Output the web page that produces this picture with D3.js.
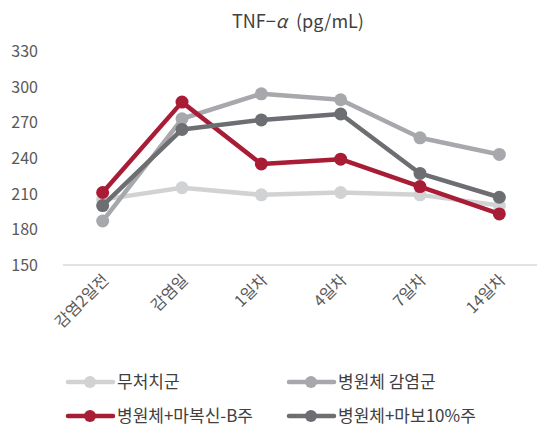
<!DOCTYPE html>
<html><head><meta charset="utf-8">
<script src="https://cdn.jsdelivr.net/npm/d3@7"></script>
<style>body{margin:0;background:#fff;} text{font-family:"Noto Sans CJK KR","Noto Sans",sans-serif;}</style>
</head><body><svg id="c" width="537" height="428"></svg>
<script>
const categories = ["감염2일전","감염일","1일차","4일차","7일차","14일차"];
const seriesNames = ["무처치군","병원체 감염군","병원체+마복신-B주","병원체+마보10%주"];
const untreated = [205, 215, 209, 211, 209, 200];
const infected = [187, 273, 294, 289, 257, 243];
const maboksin = [211, 287, 235, 239, 216, 193];
const mabo10 = [200, 264, 272, 277, 227, 207];
const yTicks = [150, 180, 210, 240, 270, 300, 330];
const colors = ["#d1d2d4", "#a7a8ab", "#a81c36", "#6d6e71"];

const svg = d3.select("#c");
const x = d3.scaleBand().domain(categories).range([63, 539]);
const y = d3.scaleLinear().domain([150, 330]).range([265, 51]);
const cx = d => x(d) + x.bandwidth() / 2;

const t = svg.append("text").attr("x", 298).attr("y", 28).attr("text-anchor", "middle")
  .attr("font-size", 18).attr("fill", "#404040");
t.append("tspan").text("TNF−");
t.append("tspan").attr("font-style", "italic").text("α");
t.append("tspan").text("\u2002(pg/mL)");

// y labels
svg.selectAll(".yl").data(yTicks).enter().append("text")
  .attr("x", 38).attr("y", d => y(d) + 6).attr("text-anchor", "end")
  .attr("font-size", 16).attr("fill", "#595959").text(d => d);

// x axis line
svg.append("line").attr("x1", 63).attr("x2", 537).attr("y1", 265).attr("y2", 265)
  .attr("stroke", "#d9d9d9").attr("stroke-width", 1.5);

// x labels
svg.selectAll(".xl").data(categories).enter().append("text")
  .attr("transform", d => `translate(${cx(d) + 7},${281}) rotate(-45)`)
  .attr("text-anchor", "end").attr("font-size", 16).attr("fill", "#595959").text(d => d);

const data = [untreated, infected, maboksin, mabo10];
const line = d3.line().x((d, i) => cx(categories[i])).y(d => y(d));
data.forEach((s, k) => {
  const g = svg.append("g");
  g.append("path").attr("d", line(s)).attr("fill", "none").attr("stroke", colors[k])
    .attr("stroke-width", 4.5).attr("stroke-linejoin", "round");
  g.selectAll("circle").data(s).enter().append("circle")
    .attr("cx", (d, i) => cx(categories[i])).attr("cy", d => y(d)).attr("r", 6.5)
    .attr("fill", colors[k]);
});

// legend
const legPos = [[68, 382], [289, 382], [68, 416], [289, 416]];
seriesNames.forEach((n, k) => {
  const [lx, ly] = legPos[k];
  svg.append("line").attr("x1", lx).attr("x2", lx + 45).attr("y1", ly).attr("y2", ly)
    .attr("stroke", colors[k]).attr("stroke-width", 4.5).attr("stroke-linecap", "round");
  svg.append("circle").attr("cx", lx + 22).attr("cy", ly).attr("r", 6).attr("fill", colors[k]);
  svg.append("text").attr("x", lx + 49).attr("y", ly + 6).attr("font-size", 17)
    .attr("fill", "#404040").text(n);
});
</script></body></html>
